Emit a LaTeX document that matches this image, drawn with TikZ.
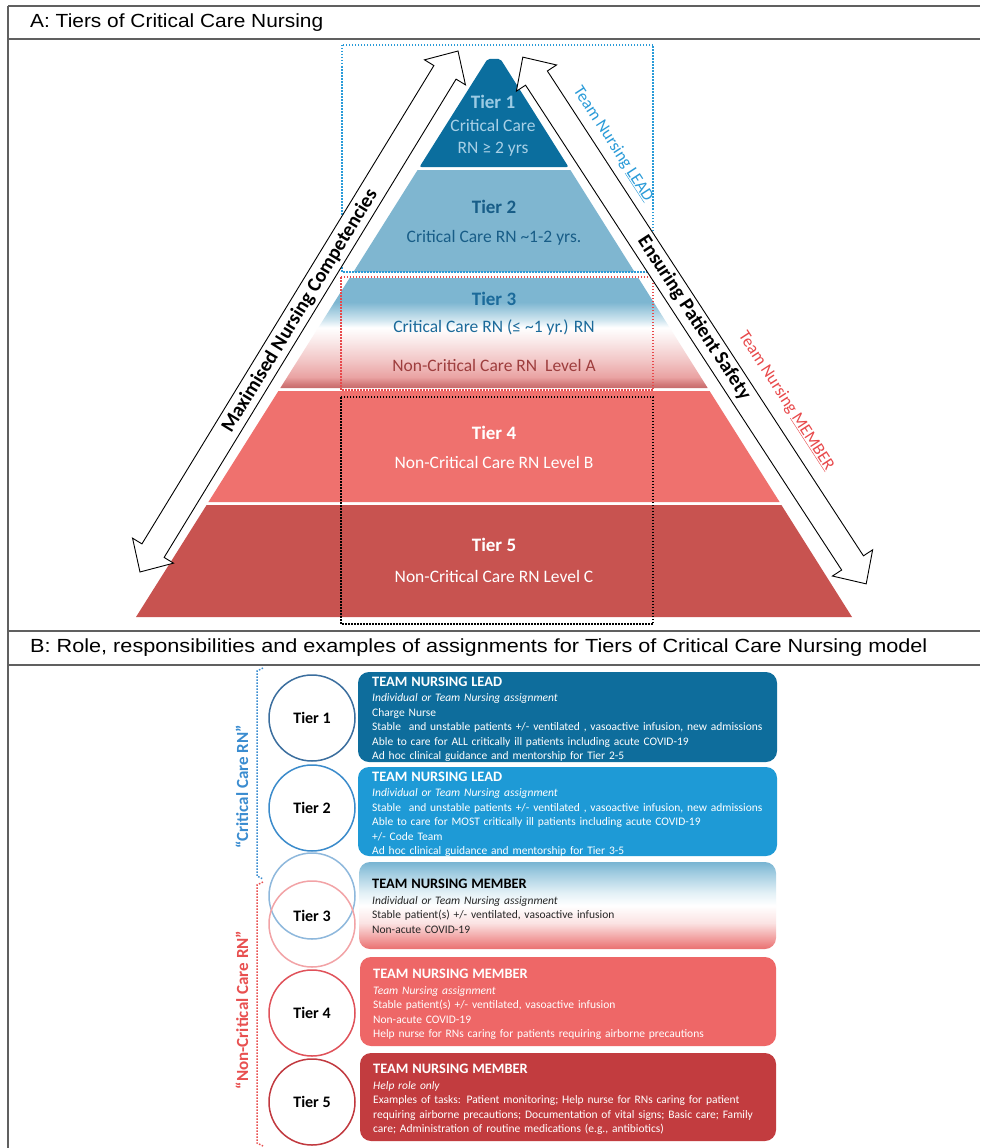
\documentclass[tikz,border=0pt]{standalone}
\usepackage{fontspec}
\setmainfont{Carlito}
\newfontfamily\headfont{Liberation Sans}
\usetikzlibrary{calc}

% pyramid colours
\definecolor{tonefill}{HTML}{0B6E9E}
\definecolor{ttwofill}{HTML}{7FB6D0}
\definecolor{tfourfill}{HTML}{EF716E}
\definecolor{tfivefill}{HTML}{C85350}
\definecolor{tonetext}{HTML}{9CCBE4}
\definecolor{tonesub}{HTML}{A8D0E6}
\definecolor{ttwotext}{HTML}{185D87}
\definecolor{tthreeblue}{HTML}{1B6A9A}
\definecolor{tthreered}{HTML}{9E3E3E}
\definecolor{leadblue}{HTML}{2A9BD8}
\definecolor{memberred}{HTML}{E8494B}
\definecolor{framegray}{HTML}{606060}
% tier 3 gradient stops (bottom to top)
\definecolor{pa}{HTML}{C66A6A}
\definecolor{pb}{HTML}{D47C7C}
\definecolor{pc}{HTML}{EAA3A3}
\definecolor{pd}{HTML}{F2C6C6}
\definecolor{pe}{HTML}{FBEEEE}
\definecolor{pf}{HTML}{CFE5EF}
\definecolor{pg}{HTML}{7DB6D1}
% role boxes
\definecolor{bxone}{HTML}{0E6D9C}
\definecolor{bxtwo}{HTML}{1E9AD6}
\definecolor{bxfour}{HTML}{EE6767}
\definecolor{bxfive}{HTML}{C23C3F}
\definecolor{ba}{HTML}{EA7070}
\definecolor{bb}{HTML}{F3AAAA}
\definecolor{bc}{HTML}{FBE3E3}
\definecolor{bd}{HTML}{E2F0F6}
\definecolor{be}{HTML}{9FCBE0}
\definecolor{bf}{HTML}{78B4D2}
% circles
\definecolor{cone}{HTML}{3B6E9E}
\definecolor{ctwo}{HTML}{3B8BCB}
\definecolor{cthreeb}{HTML}{8EB8DC}
\definecolor{cthreer}{HTML}{F2A3A6}
\definecolor{cfour}{HTML}{E0525A}
\definecolor{cfive}{HTML}{C1393F}
\definecolor{critblue}{HTML}{3A8CD0}
\definecolor{noncritred}{HTML}{E85050}

\pgfdeclareverticalshading{pyrthree}{100bp}{color(0bp)=(pa); color(25bp)=(pa); color(27bp)=(pb); color(30bp)=(pc); color(37.5bp)=(pd); color(47.5bp)=(pe); color(52.5bp)=(white); color(56bp)=(pf); color(64bp)=(pg); color(75bp)=(pg); color(100bp)=(pg)}
\pgfdeclareverticalshading{boxthree}{100bp}{color(0bp)=(ba); color(25bp)=(ba); color(32.5bp)=(bb); color(40bp)=(bc); color(50bp)=(white); color(57.5bp)=(bd); color(69bp)=(be); color(75bp)=(bf); color(100bp)=(bf)}

\newcommand\rolehead[1]{{\fontsize{14.4}{14.5}\selectfont\bfseries #1}}

\begin{document}
\begin{tikzpicture}[x=1pt,y=-1pt,
  frameline/.style={draw=framegray, line width=1.3},
  headtext/.style={anchor=west, inner sep=0, font=\headfont\fontsize{19}{22}\selectfont},
  tierlabel/.style={anchor=base, inner sep=0, font=\fontsize{19}{22}\selectfont\bfseries},
  tiertext/.style={anchor=base, inner sep=0, font=\fontsize{17.5}{20}\selectfont},
  zonebox/.style={line width=1.5, dash pattern=on 1.5pt off 1.5pt},
  blockarrow/.style={draw=black, fill=white, line width=0.9, line join=miter},
  arrowtext/.style={inner sep=0, font=\fontsize{20}{24}\selectfont\bfseries},
  teamtext/.style={inner sep=0, font=\fontsize{17}{20}\selectfont},
  tiercircle/.style={circle, line width=1.5, minimum size=86, inner sep=0},
  circletext/.style={inner sep=0, font=\fontsize{16}{18}\selectfont\bfseries, text=black},
  rolebox/.style={rounded corners=11},
  roletext/.style={anchor=base west, inner sep=0, text width=430, align=left, font=\fontsize{11.5}{14.5}\selectfont},
  sidelabel/.style={inner sep=0, rotate=90, font=\fontsize{17}{20}\selectfont\bfseries}
]
\useasboundingbox (0,0) rectangle (980,1148);
\fill[white] (0,0) rectangle (980,1148);

% ---------- table frame ----------
\draw[frameline] (8,6) -- (980,6);
\draw[frameline] (8,39) -- (980,39);
\draw[frameline] (8,631) -- (980,631);
\draw[frameline] (8,665) -- (980,665);
\draw[frameline] (8,6) -- (8,1148);
\node[headtext] (titleA) at (30,23) {\scalebox{1.1}[1]{A: Tiers of Critical Care Nursing}};
\node[headtext] (titleB) at (30,648) {\scalebox{1.14}[1]{B: Role, responsibilities and examples of assignments for Tiers of Critical Care Nursing model}};

% ---------- pyramid ----------
\fill[tonefill, rounded corners=2] (487.5,59) -- (500.5,59) -- (568.5,167) -- (419.5,167) -- cycle;
\fill[ttwofill] (417.6,170) -- (570.4,170) -- (634.6,272) -- (353.4,272) -- cycle;
\shade[shading=pyrthree] (349.6,278) -- (638.4,278) -- (707.7,388) -- (280.3,388) -- cycle;
\fill[tfourfill] (278.4,391) -- (709.6,391) -- (779.6,502) -- (208.4,502) -- cycle;
\fill[tfivefill] (206.6,505) -- (781.4,505) -- (852,617) -- (136,617) -- cycle;

\node[tierlabel, text=tonetext] (p1a) at (493,108) {Tier 1};
\node[tiertext, text=tonesub] (p1b) at (493,131.5) {Critical Care};
\node[tiertext, text=tonesub] (p1c) at (493,153.5) {RN ≥ 2 yrs};
\node[tierlabel, text=ttwotext] (p2a) at (494,213) {Tier 2};
\node[tiertext, text=ttwotext] (p2b) at (494,242.5) {Critical Care RN \textasciitilde 1-2 yrs.};
\node[tierlabel, text=tthreeblue] (p3a) at (494,305) {Tier 3};
\node[tiertext, text=tthreeblue] (p3b) at (494,332.5) {Critical Care RN (≤ \textasciitilde 1 yr.) RN};
\node[tiertext, text=tthreered] (p3c) at (494,371.5) {Non-Critical Care RN~~Level A};
\node[tierlabel, text=white] (p4a) at (494,439) {Tier 4};
\node[tiertext, text=white] (p4b) at (494,468.5) {Non-Critical Care RN Level B};
\node[tierlabel, text=white] (p5a) at (494,551) {Tier 5};
\node[tiertext, text=white] (p5b) at (494,582.5) {Non-Critical Care RN Level C};

% ---------- dotted zones ----------
\draw[zonebox, leadblue] (342,45) rectangle (653,272);
\draw[zonebox, memberred] (341,277) rectangle (653,390);
\draw[zonebox, black] (341,397) rectangle (653,624);

% ---------- double block arrows ----------
\begin{scope}[shift={(299,311.5)}, rotate=58.6]
  \draw[blockarrow] (-305.2,0) -- (-280.2,24) -- (-280.2,13) -- (280.2,13) -- (280.2,24)
    -- (305.2,0) -- (280.2,-24) -- (280.2,-13) -- (-280.2,-13) -- (-280.2,-24) -- cycle;
\end{scope}
\begin{scope}[shift={(694.5,320.5)}, rotate=-56.9]
  \draw[blockarrow] (-314.4,0) -- (-289.4,24) -- (-289.4,13) -- (289.4,13) -- (289.4,24)
    -- (314.4,0) -- (289.4,-24) -- (289.4,-13) -- (-289.4,-13) -- (-289.4,-24) -- cycle;
\end{scope}
\node[arrowtext, rotate=58.6] (compet) at (300,311) {Maximised Nursing Competencies};
\node[arrowtext, rotate=-56.9] (safety) at (694,318) {Ensuring Patient Safety};
\node[teamtext, rotate=-57, text=leadblue] (leadlbl) at (613,144) {Team Nursing \underline{LEAD}};
\node[teamtext, rotate=-57, text=memberred] (memberlbl) at (786,401) {Team Nursing \underline{MEMBER}};

% ---------- panel B: brackets ----------
\draw[zonebox, critblue] (263,668) -- (257,671) -- (257,876) -- (263,879);
\draw[zonebox, noncritred] (263,882) -- (257,885) -- (257,1143) -- (263,1146);
\node[sidelabel, text=critblue] (critlbl) at (242,787) {“Critical Care RN”};
\node[sidelabel, text=noncritred] (noncritlbl) at (242,1010) {“Non-Critical Care RN”};

% ---------- panel B: tier circles ----------
\node[tiercircle, draw=cone] (c1) at (312,718) {};
\node[tiercircle, draw=ctwo] (c2) at (312,808) {};
\node[tiercircle, draw=cthreeb] (c3b) at (312,896) {};
\node[tiercircle, draw=cthreer] (c3r) at (312,924) {};
\node[tiercircle, draw=cfour] (c4) at (312,1013) {};
\node[tiercircle, draw=cfive] (c5) at (312,1102) {};
\node[circletext] (t1) at (c1) {Tier 1};
\node[circletext] (t2) at (c2) {Tier 2};
\node[circletext] (t3) at (312,916) {Tier 3};
\node[circletext] (t4) at (c4) {Tier 4};
\node[circletext] (t5) at (c5) {Tier 5};

% ---------- panel B: role boxes ----------
\fill[bxone, rolebox] (358,672) rectangle (777,762);
\fill[bxtwo, rolebox] (358,767) rectangle (777,856);
\shade[shading=boxthree, rolebox] (359,862) rectangle (776,949);
\fill[bxfour, rolebox] (360,957) rectangle (776,1046);
\fill[bxfive, rolebox] (360,1053) rectangle (776,1141);

\node[roletext, text=white] (r1) at (372,686) {\rolehead{TEAM NURSING LEAD}\\[1pt]
\textit{Individual or Team Nursing assignment}\\
Charge Nurse\\
Stable~~and unstable patients +/- ventilated , vasoactive infusion, new admissions\\
Able to care for ALL critically ill patients including acute COVID-19\\
Ad hoc clinical guidance and mentorship for Tier 2-5};

\node[roletext, text=white] (r2) at (372,781) {\rolehead{TEAM NURSING LEAD}\\[1pt]
\textit{Individual or Team Nursing assignment}\\
Stable~~and unstable patients +/- ventilated , vasoactive infusion, new admissions\\
Able to care for MOST critically ill patients including acute COVID-19\\
+/- Code Team\\
Ad hoc clinical guidance and mentorship for Tier 3-5};

\node[roletext, text=black!85] (r3) at (372,888.5) {\rolehead{\color{black}TEAM NURSING MEMBER}\\[1pt]
\textit{Individual or Team Nursing assignment}\\
Stable patient(s) +/- ventilated, vasoactive infusion\\
Non-acute COVID-19};

\node[roletext, text=white] (r4) at (373,978.5) {\rolehead{TEAM NURSING MEMBER}\\[1pt]
\textit{Team Nursing assignment}\\
Stable patient(s) +/- ventilated, vasoactive infusion\\
Non-acute COVID-19\\
Help nurse for RNs caring for patients requiring airborne precautions};

\node[roletext, text=white] (r5) at (373,1073.5) {\rolehead{TEAM NURSING MEMBER}\\[1pt]
\textit{Help role only}\\
Examples of tasks: Patient monitoring; Help nurse for RNs caring for patient\\
requiring airborne precautions; Documentation of vital signs; Basic care; Family\\
care; Administration of routine medications (e.g., antibiotics)};
\end{tikzpicture}
\end{document}
